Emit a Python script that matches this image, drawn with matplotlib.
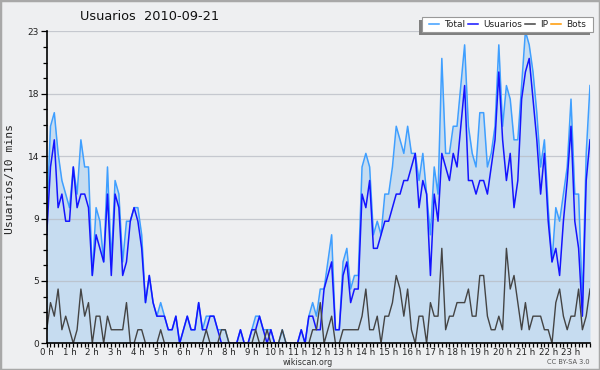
import matplotlib
matplotlib.use('Agg')
import matplotlib.pyplot as plt
from matplotlib.lines import Line2D
from matplotlib.patches import Rectangle
import numpy as np

# 10-minute slots, 00:00 -> 23:50 (144 points)
total = [9, 16, 17, 14, 12, 11, 10, 13, 11, 15, 13, 13, 5, 10, 9, 6, 13, 6, 12, 11,
         6, 9, 9, 10, 10, 8, 3, 5, 3, 2, 3, 2, 1, 1, 2, 0,
         1, 2, 1, 1, 3, 1, 2, 2, 2, 1, 1, 1, 0, 0, 0, 1, 0, 0, 1, 2,
         2, 1, 1, 1, 0, 0, 1, 0, 0, 0, 0, 1, 0, 2, 3, 2,
         4, 4, 6, 8, 1, 1, 6, 7, 4, 5, 5, 13, 14, 13, 8, 9, 8, 11, 11, 13,
         16, 15, 14, 16, 14, 14, 12, 14, 11, 8, 13, 11, 21, 14, 14, 16,
         16, 19, 22, 16, 14, 13, 17, 17, 13, 14, 16, 22, 16, 19, 18, 15, 15, 19, 23, 22,
         20, 17, 13, 15, 10, 6, 10, 9, 11, 13, 18, 11, 11, 3, 14, 19]
usuarios = [8, 13, 15, 10, 11, 9, 9, 13, 10, 11, 11, 10, 5, 8, 7, 6, 11, 5, 11, 10,
            5, 6, 9, 10, 9, 7, 3, 5, 3, 2, 2, 2, 1, 1, 2, 0,
            1, 2, 1, 1, 3, 1, 1, 2, 2, 1, 0, 0, 0, 0, 0, 1, 0, 0, 1, 1,
            2, 1, 0, 1, 0, 0, 0, 0, 0, 0, 0, 1, 0, 2, 2, 1,
            1, 4, 5, 6, 1, 1, 5, 6, 3, 4, 4, 11, 10, 12, 7, 7, 8, 9, 9, 10,
            11, 11, 12, 12, 13, 14, 10, 12, 11, 5, 11, 9, 14, 13, 12, 14,
            13, 16, 19, 12, 12, 11, 12, 12, 11, 13, 15, 20, 15, 12, 14, 10, 12, 18, 20, 21,
            18, 15, 11, 14, 9, 6, 7, 5, 9, 12, 16, 9, 7, 2, 12, 15]
ip = [1, 3, 2, 4, 1, 2, 1, 0, 1, 4, 2, 3, 0, 2, 2, 0, 2, 1, 1, 1,
      1, 3, 0, 0, 1, 1, 0, 0, 0, 0, 1, 0, 0, 0, 0, 0,
      0, 0, 0, 0, 0, 0, 1, 0, 0, 0, 1, 1, 0, 0, 0, 0, 0, 0, 0, 1,
      0, 0, 1, 0, 0, 0, 1, 0, 0, 0, 0, 0, 0, 0, 1, 1,
      3, 0, 1, 2, 0, 0, 1, 1, 1, 1, 1, 2, 4, 1, 1, 2, 0, 2, 2, 3,
      5, 4, 2, 4, 1, 0, 2, 2, 0, 3, 2, 2, 7, 1, 2, 2,
      3, 3, 3, 4, 2, 2, 5, 5, 2, 1, 1, 2, 1, 7, 4, 5, 3, 1, 3, 1,
      2, 2, 2, 1, 1, 0, 3, 4, 2, 1, 2, 2, 4, 1, 2, 4]
bots = [0] * 144

hour_labels = ['%d h' % h for h in range(24)]
y_max = 23
y_labels = ['0', '5', '9', '14', '18', '23']

series_names = ['Total', 'Usuarios', 'IP', 'Bots']
series_colors = ['#3f9fff', '#1414ff', '#444444', '#ff9900']

bg = '#eeeff1'

fig = plt.figure(figsize=(6, 3.7), dpi=100, facecolor=bg)
ax = fig.add_axes([46.7 / 600, 1 - 343.3 / 370, (590 - 46.7) / 600, (343.3 - 31.3) / 370])
ax.set_facecolor(bg)

x = np.arange(len(total))
ax.fill_between(x, 0, total, color='#c6dcf0', lw=0, zorder=1)
ax.plot(x, bots, color=series_colors[3], lw=1, zorder=0.8)
ax.plot(x, total, color=series_colors[0], lw=1.1, zorder=2)
ax.plot(x, usuarios, color=series_colors[1], lw=1.1, zorder=2.1)
ax.plot(x, ip, color=series_colors[2], lw=1.0, zorder=2.2)

ax.set_xlim(0, len(total) - 1)
ax.set_ylim(0, y_max)

ax.set_xticks(np.arange(0, 144, 6))
ax.set_xticklabels(hour_labels, fontsize=6.2, color='#222222')
ax.set_xticks(np.arange(0, 144, 1), minor=True)
ax.tick_params(axis='x', which='both', direction='out', length=3, width=0.9, pad=0.5)

yt = np.linspace(0, y_max, len(y_labels))
ax.set_yticks(yt)
ax.set_yticklabels(y_labels, fontsize=6.5, color='#222222')
ax.set_yticks(np.linspace(0, y_max, 21), minor=True)
ax.tick_params(axis='y', which='major', direction='out', length=4, width=0.9, pad=1.5)
ax.tick_params(axis='y', which='minor', direction='out', length=3, width=0.9)

ax.set_axisbelow('line')
ax.grid(axis='y', which='major', color='#b8bcc4', lw=0.9, alpha=0.75)

for s in ['top', 'right']:
    ax.spines[s].set_visible(False)
for s in ['left', 'bottom']:
    ax.spines[s].set_color('black')
    ax.spines[s].set_linewidth(1.2)
    ax.spines[s].set_zorder(3)

fig.text(150 / 600, 1 - 16 / 370, 'Usuarios  2010-09-21', ha='center', va='center',
         fontsize=9.3, color='#111111')
fig.text(10 / 600, 1 - 179 / 370, 'Usuarios/10 mins', rotation=90, ha='center', va='center',
         fontsize=8.2, family='DejaVu Sans Mono', color='#222222')
fig.text(308 / 600, 1 - 362.5 / 370, 'wikiscan.org', ha='center', va='center',
         fontsize=5.8, color='#333333')
fig.text(590 / 600, 1 - 362.5 / 370, 'CC BY-SA 3.0', ha='right', va='center',
         fontsize=4.8, color='#555555')

# legend box with offset shadow (drawn by hand)
lx0, lx1, ly0, ly1 = 421.7, 593.3, 17.3, 32.3
fig.patches.append(Rectangle((lx0 / 600 - 3 / 600, 1 - (ly1 + 3) / 370),
                             (lx1 - lx0) / 600, (ly1 - ly0) / 370,
                             transform=fig.transFigure, facecolor='#808080', edgecolor='none', zorder=5))
fig.patches.append(Rectangle((lx0 / 600, 1 - ly1 / 370), (lx1 - lx0) / 600, (ly1 - ly0) / 370,
                             transform=fig.transFigure, facecolor='white', edgecolor='#999999',
                             lw=0.8, zorder=6))
handles = [Line2D([], [], color=c, lw=1.1) for c in series_colors]
leg = fig.legend(handles, series_names, loc='center', ncol=4, frameon=False,
                 bbox_to_anchor=((lx0 + lx1) / 2 / 600, 1 - (ly0 + ly1) / 2 / 370),
                 fontsize=6.5, handlelength=1.15, handletextpad=0.55, columnspacing=0.3,
                 borderpad=0.1)
leg.set_zorder(7)
for t in leg.get_texts():
    t.set_color('#222222')

# outer border
fig.patches.append(Rectangle((0, 0), 1, 1, transform=fig.transFigure, facecolor='none',
                             edgecolor='#a8a8a8', lw=2.5, zorder=10))

fig.savefig('out.png', dpi=100, facecolor=bg)
